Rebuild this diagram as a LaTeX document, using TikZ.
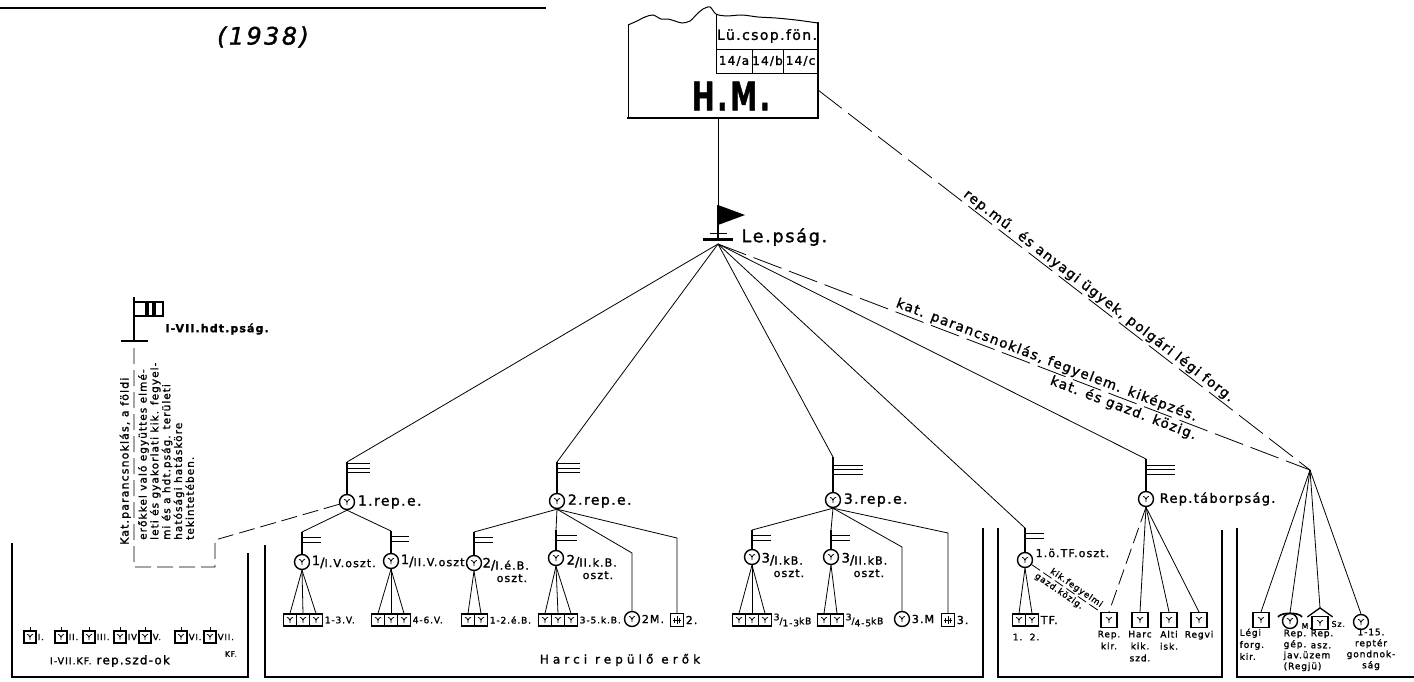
\documentclass[tikz,border=0pt]{standalone}
\usepackage{fontspec}
\usepackage{graphicx}
\setmainfont{DejaVu Sans}[LetterSpace=10, FakeBold=1.5, BoldFont={DejaVu Sans Bold}, ItalicFont={DejaVu Sans Oblique}]
\usetikzlibrary{positioning,calc}

\newcommand{\ysym}{\draw[line width=0.8pt,shift={(path picture bounding box.center)}]
  (-3pt,2.6pt) .. controls (-1.2pt,2.2pt) .. (0pt,-0.4pt)
  .. controls (1.2pt,2.2pt) .. (3pt,2.6pt)
  (0pt,-0.4pt) -- (0pt,-3.2pt);}
\newcommand{\gepsym}{\draw[line width=0.8pt,shift={(path picture bounding box.center)}]
  (-4pt,0pt) -- (4pt,0pt) (0pt,-4pt) -- (0pt,4pt)
  (-2.5pt,-2.5pt) -- (-2.5pt,2.5pt) (2.5pt,-2.5pt) -- (2.5pt,2.5pt);}

\tikzset{
  kor/.style={circle,draw,line width=1.4pt,minimum size=15pt,inner sep=0pt,path picture={\ysym}},
  doboz/.style={rectangle,draw,line width=1.2pt,minimum width=13pt,minimum height=12pt,inner sep=0pt,path picture={\ysym}},
  nagydoboz/.style={doboz,minimum width=16pt,minimum height=15pt},
  gepdoboz/.style={rectangle,draw,line width=1.2pt,minimum size=13pt,inner sep=0pt,path picture={\gepsym}},
  vonal/.style={line width=0.8pt},
  szagg/.style={line width=0.8pt,dash pattern=on 30pt off 8pt},
  rovid/.style={line width=0.8pt,dash pattern=on 16pt off 6pt},
  rud/.style={line width=1.3pt},
  csik/.style={line width=0.9pt},
  keret/.style={line width=1.6pt},
  kis/.style={font=\fontsize{9}{12}\selectfont,inner sep=0.5pt},
  kozep/.style={font=\fontsize{11}{12.5}\selectfont,inner sep=0.5pt},
  nagy/.style={font=\fontsize{14}{16}\selectfont,inner sep=0.5pt},
  utvonal/.style={font=\fontsize{13.5}{15}\selectfont,inner sep=1.5pt}
}

\begin{document}
\begin{tikzpicture}[x=1pt,y=-1pt]
\useasboundingbox (0,0) rectangle (1414,681);

%Cim
\draw[line width=2.4pt] (0,8) -- (546,8);
\node[font=\itshape\fontsize{24}{26}\selectfont] (ev) at (263,37) {(1938)};

%H.M. doboz
\draw[line width=1pt] plot[smooth] coordinates {(628,25) (637,21) (645,17) (653,15) (661,19) (668,19) (675,21) (682,23) (690,21) (697,14) (703,9) (710,7) (716,14) (726,16) (742,15) (758,17) (776,18) (796,20) (818,23)};
\draw[line width=1pt] (628,25) -- (628,118);
\draw[line width=2.6pt] (818,22) -- (818,118) -- (627,118);
\draw[line width=0.9pt] (716,14) -- (716,73) -- (818,73) (716,49) -- (818,49) (752,49) -- (752,73) (783,49) -- (783,73);
\node[font=\fontsize{14}{16}\selectfont] (lucs) at (767,36) {Lü.csop.fön.};
\node[font=\fontsize{12}{14}\selectfont] (c14a) at (734,61) {14/a};
\node[font=\fontsize{12}{14}\selectfont] (c14b) at (767.5,61) {14/b};
\node[font=\fontsize{12}{14}\selectfont] (c14c) at (800.5,61) {14/c};
\node[font=\bfseries\fontsize{27}{30}\selectfont] (hm) at (731,96) {\scalebox{1}[1.45]{H.M.}};
\coordinate (hmb) at (718,118);
\coordinate (hmr) at (818,90);

%Le.psag
\coordinate (lept) at (718,205);
\coordinate (lepf) at (718,244);
\draw[rud] (lept) -- (718,239);
\fill (lept) -- (745,215) -- (718,225) -- cycle;
\draw[line width=1pt] (710,233) -- (727,233);
\draw[line width=2.6pt] (703,239.5) -- (733,239.5);
\node[font=\fontsize{17.5}{19}\selectfont, anchor=west] (lep) at (738,237) {Le.pság.};
\draw[vonal] (hmb) -- (lept);

%1.rep.e.
\coordinate (frep1) at (347,462);
\node[kor] (rep1) at (347,502) {};
\node[nagy, right=2pt of rep1] (rep1t) {1.rep.e.};
\coordinate (fo11) at (302,532);
\node[kor] (o11) at (302,562) {};
\node[kozep, right=1pt of o11] (o11t) {{\fontsize{13}{14}\selectfont\raisebox{2pt}{1}/}I.V.oszt.};
\coordinate (fo12) at (391,531);
\node[kor] (o12) at (391,561) {};
\node[kozep, right=1pt of o12] (o12t) {{\fontsize{13}{14}\selectfont\raisebox{2pt}{1}/}II.V.oszt.};
\foreach \n/\x in {v1/290, v2/303, v3/316, v4/378, v5/391, v6/404}
  \node[doboz] (\n) at (\x,620) {};
\foreach \n in {v1,v2,v3} \draw[vonal] (o11.south) -- (\n.north);
\foreach \n in {v4,v5,v6} \draw[vonal] (o12.south) -- (\n.north);
\node[kis, right=1pt of v3] (v13t) {1-3.V.};
\node[kis, right=1pt of v6] (v46t) {4-6.V.};
\draw[vonal] (rep1.south) -- (fo11);
\draw[vonal] (rep1.south) -- (fo12);

%2.rep.e.
\coordinate (frep2) at (557,462);
\node[kor] (rep2) at (557,501) {};
\node[nagy, right=2pt of rep2] (rep2t) {2.rep.e.};
\coordinate (fo21) at (474,532);
\node[kor] (o21) at (474,563) {};
\node[kozep, align=left, anchor=west] (o21t) at (482,570) {{\fontsize{13}{14}\selectfont\raisebox{2pt}{2}/}I.é.B.\\\hspace*{14pt}oszt.};
\coordinate (fo22) at (556,530);
\node[kor] (o22) at (556,558) {};
\node[kozep, align=left, anchor=west] (o22t) at (566,567) {{\fontsize{13}{14}\selectfont\raisebox{2pt}{2}/}II.k.B.\\\hspace*{16pt}oszt.};
\foreach \n/\x in {eb1/468, eb2/481, kb3/545, kb4/558, kb5/571}
  \node[doboz] (\n) at (\x,620) {};
\foreach \n in {eb1,eb2} \draw[vonal] (o21.south) -- (\n.north);
\foreach \n in {kb3,kb4,kb5} \draw[vonal] (o22.south) -- (\n.north);
\node[kis, right=1pt of eb2] (ebt) {1-2.é.B.};
\node[kis, right=1pt of kb5] (kbt) {3-5.k.B.};
\node[kor] (m2) at (632,619) {};
\node[kozep, right=1pt of m2] (m2t) {2M.};
\node[gepdoboz] (x2) at (677,620) {};
\node[kozep, right=1pt of x2] (x2t) {2.};
\coordinate (m2k) at (632,553);
\coordinate (x2k) at (677,538);
\draw[vonal] (rep2.south) -- (fo21);
\draw[vonal] (rep2.south) -- (fo22);
\draw[vonal] (rep2.south) -- (m2k) -- (m2.north);
\draw[vonal] (rep2.south) -- (x2k) -- (x2.north);

%3.rep.e.
\coordinate (frep3) at (833,457);
\node[kor] (rep3) at (833,500) {};
\node[nagy, right=2pt of rep3] (rep3t) {3.rep.e.};
\coordinate (fo31) at (752,530);
\node[kor] (o31) at (752,557) {};
\node[kozep, align=left, anchor=west] (o31t) at (761,565) {{\fontsize{13}{14}\selectfont\raisebox{2pt}{3}/}I.kB.\\\hspace*{12pt}oszt.};
\coordinate (fo32) at (831,530);
\node[kor] (o32) at (831,557) {};
\node[kozep, align=left, anchor=west] (o32t) at (841,565) {{\fontsize{13}{14}\selectfont\raisebox{2pt}{3}/}II.kB.\\\hspace*{12pt}oszt.};
\foreach \n/\x in {kb31/739, kb32/752, kb33/765, kb34/824, kb35/837}
  \node[doboz] (\n) at (\x,620) {};
\foreach \n in {kb31,kb32,kb33} \draw[vonal] (o31.south) -- (\n.north);
\foreach \n in {kb34,kb35} \draw[vonal] (o32.south) -- (\n.north);
\node[kis, right=1pt of kb33] (kb13t) {\raisebox{4pt}{3}/\raisebox{-2pt}{1-3}kB};
\node[kis, right=1pt of kb35] (kb45t) {\raisebox{4pt}{3}/\raisebox{-2pt}{4-5}kB};
\node[kor] (m3) at (902,619) {};
\node[kozep, right=1pt of m3] (m3t) {3.M};
\node[gepdoboz] (x3) at (948,620) {};
\node[kozep, right=1pt of x3] (x3t) {3.};
\coordinate (m3k) at (902,547);
\coordinate (x3k) at (948,533);
\draw[vonal] (rep3.south) -- (fo31);
\draw[vonal] (rep3.south) -- (fo32);
\draw[vonal] (rep3.south) -- (m3k) -- (m3.north);
\draw[vonal] (rep3.south) -- (x3k) -- (x3.north);

%1.o.TF.oszt.
\coordinate (ftf) at (1025,528);
\node[kor] (tf) at (1025,560) {};
\node[kozep, anchor=west] (tft) at (1035,553) {1.ö.TF.oszt.};
\node[doboz] (tf1) at (1019,620) {};
\node[doboz] (tf2) at (1032,620) {};
\draw[vonal] (tf.south) -- (tf1.north);
\draw[vonal] (tf.south) -- (tf2.north);
\node[kozep, right=1pt of tf2] (tf12t) {TF.};
\node[kis] (tf12a) at (1026,637) {1.\ \ 2.};

%Rep.taborpsag
\coordinate (ftab) at (1146,459);
\node[kor] (tab) at (1146,499) {};
\node[font=\fontsize{13}{15}\selectfont, right=2pt of tab] (tabt) {Rep.táborpság.};
\foreach \n/\x in {rk/1109, hk/1140, ai/1169, rg/1199}
  \node[nagydoboz] (\n) at (\x,620) {};
\draw[rovid] (tab.south) -- (rk.north);
\foreach \n in {hk,ai,rg} \draw[vonal] (tab.south) -- (\n.north);
\node[kis, align=center, below=2pt of rk] (rkt) {Rep.\\kir.};
\node[kis, align=center, below=2pt of hk] (hkt) {Harc\\kik.\\szd.};
\node[kis, align=center, below=2pt of ai] (ait) {Alti\\isk.};
\node[kis, align=center, below=2pt of rg] (rgt) {Regvi};
\draw[line width=0.8pt, dash pattern=on 10pt off 4pt] (tf) -- (rk.north west)
  node[kis, font=\fontsize{8.5}{10}\selectfont, sloped, above=1pt, pos=0.6] (kikt) {kik.fegyelmi}
  node[kis, font=\fontsize{8.5}{10}\selectfont, sloped, below=1.5pt, pos=0.45] (gazt) {gazd.közig.};

%Egyeb ugyek
\coordinate (gy) at (1310,470);
\node[nagydoboz] (lfk) at (1261,620) {};
\node[kor] (rgju) at (1290,621) {};
\node[nagydoboz, minimum height=13pt] (rasz) at (1320,623) {};
\node[kor] (rtg) at (1361,622) {};
\coordinate (raszt) at ($(rasz.north)+(0,-8)$);
\draw[line width=1.6pt] ($(rgju.center)+(-12,-4)$) .. controls ($(rgju.center)+(-9,-9)$) and ($(rgju.center)+(9,-9)$) .. ($(rgju.center)+(12,-4)$);
\draw[line width=1.3pt] ($(rasz.north west)+(-4,1)$) -- (raszt) -- ($(rasz.north east)+(4,1)$);
\node[font=\fontsize{8}{9}\selectfont, anchor=west] (rgjum) at (1298,626) {M.};
\node[font=\fontsize{8}{9}\selectfont, anchor=west] (raszs) at (1328,624) {Sz.};
\draw[vonal] (gy) -- (lfk.north);
\draw[vonal] (gy) -- (rgju.north);
\draw[vonal] (gy) -- (raszt);
\draw[vonal] (gy) -- (rtg.north);
\node[kis, align=left, anchor=north west] (lfkt) at (1239,628) {Légi\\forg.\\kir.};
\node[kis, align=left, anchor=north west, font=\fontsize{9}{11}\selectfont] (rgjut) at (1283,629) {Rep.\\gép.\\jav.üzem\\(Regjü)};
\node[kis, align=left, anchor=north west] (raszu) at (1310,629) {Rep.\\asz.};
\node[kis, align=center, anchor=north, font=\fontsize{9}{11}\selectfont] (rtgt) at (1371,628) {1-15.\\reptér\\gondnok-\\ság};

%Zaszlok
\foreach \n/\so/\w in {rep1/1.5/23, rep2/1.5/23, rep3/8/30, tab/6/29} {
  \draw[rud] (f\n) -- (\n.north);
  \foreach \s in {0,4.5,9} \draw[csik] (f\n) ++(0,\so+\s) -- ++(\w,0);
}
\foreach \n/\w in {o11/19, o12/18, o21/19, o22/21, o31/19, o32/19, tf/19} {
  \draw[rud] (f\n) -- (\n.north);
  \foreach \s in {5,10} \draw[csik] (f\n) ++(0,\s) -- ++(\w,0);
}

%Le.psag kapcsolatai
\foreach \n in {frep1,frep2,frep3,ftf,ftab} \draw[vonal] (lepf) -- (\n);
\draw[szagg] (lepf) -- (gy)
  node[utvonal, sloped, above, pos=0.55] (kat1) {kat. parancsnoklás, fegyelem. kiképzés.}
  node[utvonal, sloped, below, pos=0.69] (kat2) {kat. és gazd. közig.};
\draw[szagg] (hmr) -- (gy)
  node[utvonal, sloped, above, pos=0.56] (repmu) {rep.mű. és anyagi ügyek, polgári légi forg.};

%I-VII. hdt.psag
\coordinate (fhdt) at (134,297);
\coordinate (hdtb) at (134,341);
\draw[rud] (fhdt) -- (hdtb);
\draw[line width=1.2pt] (134,302) rectangle (163,316);
\fill (145,302) rectangle (148.5,316);
\fill (152,302) rectangle (155.5,316);
\draw[line width=2.6pt] (121,341) -- (148,341);
\node[font=\bfseries\fontsize{11}{13}\selectfont, anchor=west] (hdt) at (162,329) {I-VII.hdt.pság.};
\node[font=\fontsize{11}{12}\selectfont, rotate=90, anchor=south west, inner sep=1pt] (hdtsz1) at (132,546) {Kat.parancsnoklás, a földi};
\node[font=\fontsize{10.5}{11.8}\selectfont, rotate=90, anchor=north west, align=left, inner sep=1pt] (hdtsz2) at (137,541) {erőkkel való együttes elmé-\\leti és gyakorlati kik. fegyel-\\mi és a hdt.pság. területi\\hatósági hatásköre\\tekintetében.};
\coordinate (hdtk1) at (215,540);
\coordinate (hdtk2) at (215,567);
\coordinate (hdtk3) at (134,567);
\draw[rovid] (rep1) -- (hdtk1) -- (hdtk2) -- (hdtk3) -- (hdtb);

%Keretek
\draw[keret] (12,543) -- (12,677) -- (248,677) -- (248,553);
\draw[keret] (265,545) -- (265,677) -- (983,677) -- (983,528);
\draw[keret] (998,528) -- (998,677) -- (1222,677) -- (1222,530);
\draw[keret] (1237,528) -- (1237,677) -- (1414,677);

%Kiegeszito szazadok
\foreach \n/\x/\t in {1/30/I., 2/61/II., 3/89/III., 4/120/IV, 5/145/V., 6/181/VI., 7/210/VII.} {
  \node[doboz, minimum width=12pt] (kf\n) at (\x,637) {};
  \node[kis, font=\fontsize{8.5}{10}\selectfont, right=0.5pt of kf\n] (kft\n) {\t};
  \draw[vonal] (kf\n.north) -- ++(0,-3);
}
\node[font=\fontsize{7.5}{9}\selectfont] (kfv) at (231,654) {KF.};
\node[font=\fontsize{12}{14}\selectfont] (kfsz) at (110,661) {{\fontsize{9.5}{11}\selectfont I-VII.KF.} rep.szd-ok};
\node[font=\fontsize{12}{14}\selectfont\addfontfeatures{LetterSpace=34}] (harci) at (620,660) {Harci repülő erők};

\end{tikzpicture}
\end{document}
